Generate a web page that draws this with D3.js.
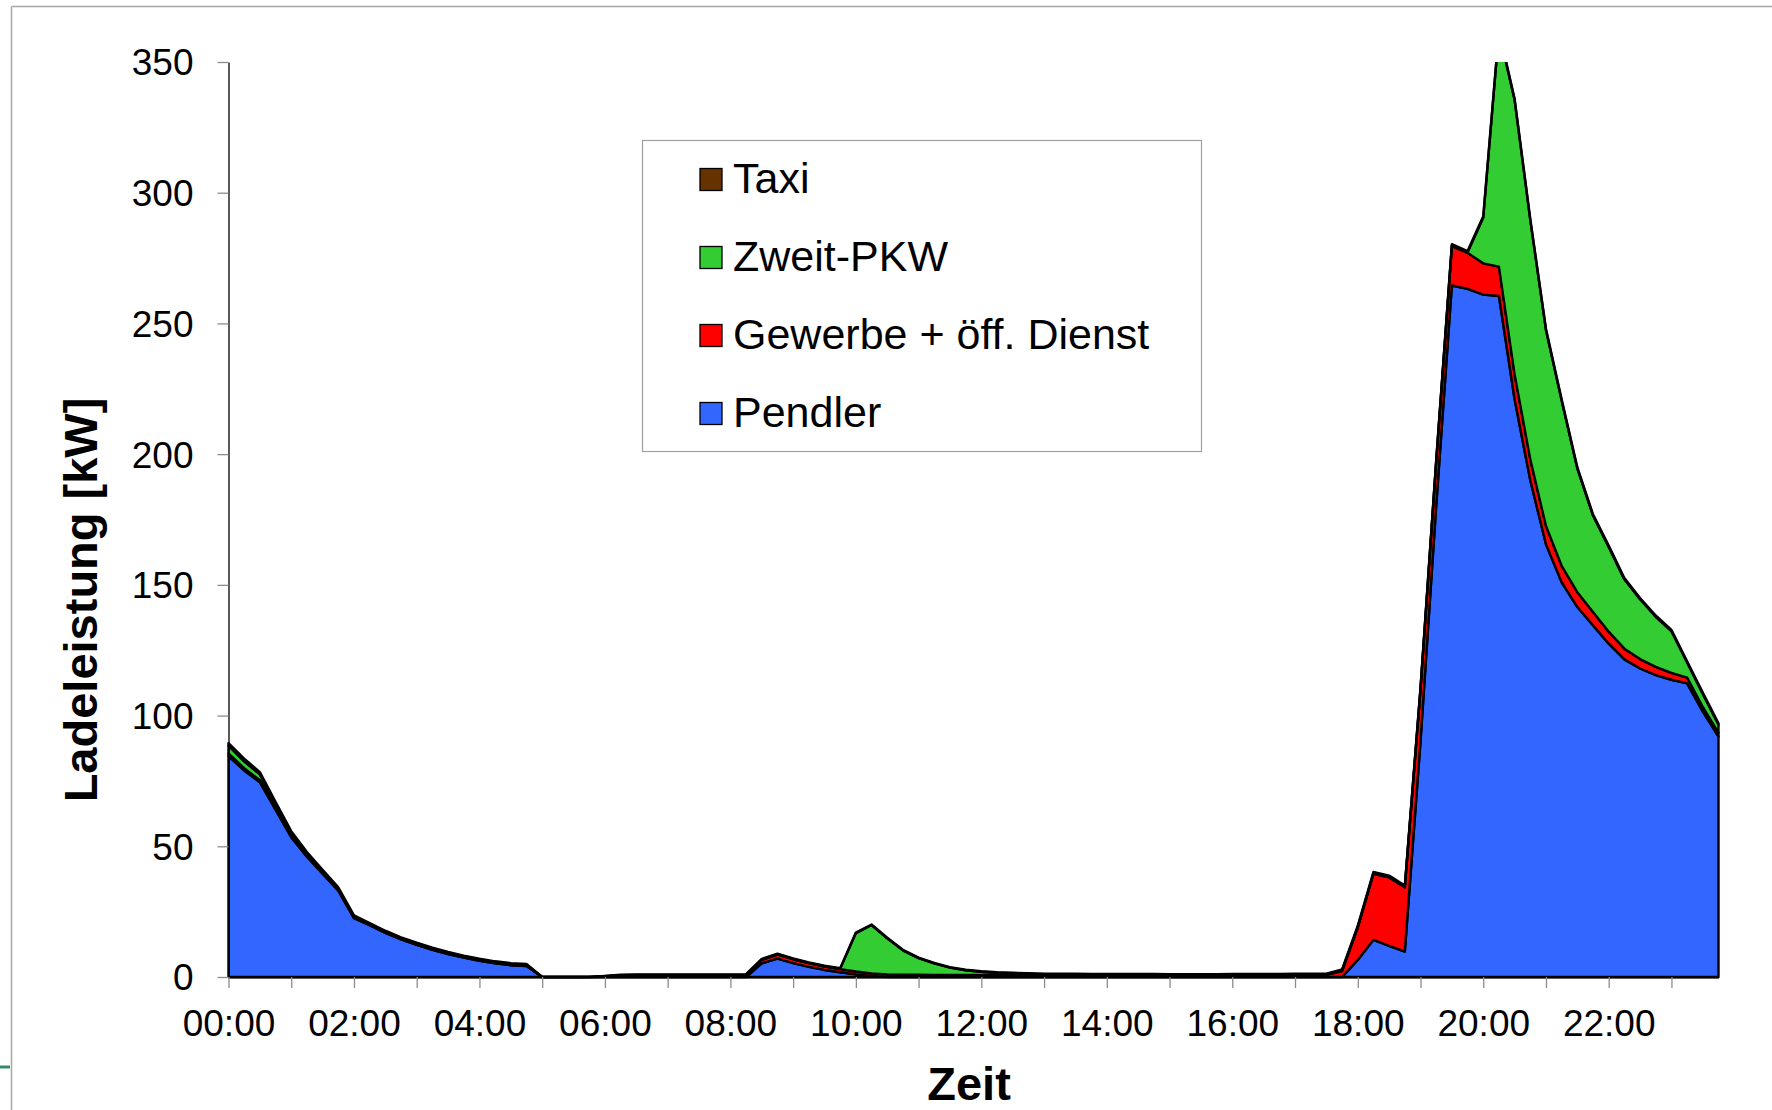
<!DOCTYPE html>
<html>
<head>
<meta charset="utf-8">
<script src="https://cdn.jsdelivr.net/npm/d3@7"></script>
<style>
  html, body { margin: 0; padding: 0; background: #fff; }
  svg { display: block; font-family: "Liberation Sans", Arial, Helvetica, sans-serif; }
</style>
</head>
<body>
<svg id="chart" width="1772" height="1110"></svg>
<script>
// 15-minute time slots of one day
const times = [];
for (let h = 0; h < 24; h++) {
  for (let m = 0; m < 60; m += 15) {
    times.push(String(h).padStart(2, "0") + ":" + String(m).padStart(2, "0"));
  }
}

// Charging power per user group [kW], one value per 15-minute slot
const pendler = [
  84.5, 79, 74.5, 64, 53.5, 46, 39.5, 33,
  22.5, 19.8, 16.9, 14.4, 12.3, 10.4, 8.8, 7.4,
  6.2, 5.2, 4.5, 4.2, 0, 0, 0, 0,
  0, 0, 0, 0, 0, 0, 0, 0,
  0, 0, 5.2, 7.0, 5.3, 3.9, 2.7, 1.8,
  1.0, 0.4, 0, 0, 0, 0, 0, 0,
  0, 0, 0, 0, 0, 0, 0, 0,
  0, 0, 0, 0, 0, 0, 0, 0,
  0, 0, 0, 0, 0, 0, 0, 0,
  6.5, 14.2, 11.9, 9.7, 90, 180, 264.5, 263.2,
  261, 260.5, 221, 190, 165.5, 151, 141.5, 134.5,
  127.5, 121.5, 118, 115.5, 113.7, 112.3, 101.5, 92
];

const gewerbe = [
  1.0, 0.9, 0.8, 0.7, 0.6, 0.5, 0.5, 0.4,
  0.4, 0.3, 0.3, 0.3, 0.3, 0.3, 0.3, 0.3,
  0.3, 0.3, 0.3, 0.3, 0, 0, 0, 0,
  0.3, 0.6, 0.7, 0.7, 0.7, 0.7, 0.7, 0.7,
  0.7, 0.8, 1.4, 1.6, 1.5, 1.4, 1.3, 1.2,
  1.1, 1.0, 1.0, 0.9, 0.9, 0.8, 0.8, 0.8,
  0.8, 0.8, 0.8, 0.8, 0.7, 0.7, 0.7, 0.7,
  0.7, 0.7, 0.7, 0.7, 0.6, 0.6, 0.6, 0.6,
  0.7, 0.7, 0.7, 0.7, 0.8, 0.8, 0.8, 2.3,
  12.5, 25.3, 26.2, 24.6, 20, 17, 15.1, 13.8,
  12, 11.2, 9.5, 8, 7, 6.3, 5.7, 5.1,
  4.6, 4.1, 3.6, 3.1, 2.6, 2.2, 1.8, 1.4
];

const zweitPkw = [
  3.0, 2.6, 2.2, 1.5, 1.0, 0.7, 0.5, 0.4,
  0.3, 0.2, 0.2, 0.2, 0.2, 0.2, 0.2, 0.2,
  0.2, 0.2, 0.2, 0.2, 0, 0, 0, 0,
  0, 0.1, 0.1, 0.1, 0.1, 0.1, 0.1, 0.1,
  0.1, 0.1, 0.1, 0.1, 0.1, 0.1, 0.1, 0.2,
  14.7, 18.5, 13.8, 9.3, 6.3, 4.4, 2.8, 1.8,
  1.2, 0.8, 0.6, 0.5, 0.4, 0.4, 0.4, 0.3,
  0.3, 0.3, 0.3, 0.3, 0.3, 0.3, 0.3, 0.3,
  0.3, 0.3, 0.3, 0.3, 0.3, 0.3, 0.3, 0.3,
  0.2, 0.2, 0.2, 0.2, 0.2, 0.2, 0.2, 0.2,
  17.5, 90, 105, 91.5, 75, 63.2, 47.3, 36.9,
  32.4, 26.5, 22.9, 19.2, 16.0, 5.8, 5.0, 3.1
];

const taxi = [
  1.0, 1.0, 0.9, 0.8, 0.7, 0.6, 0.5, 0.5,
  0.4, 0.3, 0.3, 0.3, 0.3, 0.3, 0.3, 0.3,
  0.3, 0.3, 0.3, 0.3, 0, 0, 0, 0,
  0.1, 0.2, 0.2, 0.2, 0.2, 0.2, 0.2, 0.2,
  0.2, 0.2, 0.2, 0.2, 0.2, 0.2, 0.2, 0.2,
  0.2, 0.2, 0.2, 0.2, 0.2, 0.2, 0.2, 0.2,
  0.2, 0.2, 0.2, 0.2, 0.2, 0.2, 0.2, 0.2,
  0.2, 0.2, 0.2, 0.2, 0.2, 0.2, 0.2, 0.2,
  0.2, 0.2, 0.2, 0.2, 0.2, 0.2, 0.2, 0.3,
  0.4, 0.5, 0.5, 0.5, 0.5, 0.5, 0.5, 0.5,
  0.5, 0.5, 0.5, 0.5, 0.5, 0.5, 0.5, 0.5,
  0.5, 0.5, 0.5, 0.5, 0.5, 0.5, 0.5, 0.5
];

// Stack order bottom to top, and legend order top to bottom
const seriesKeys = ["Pendler", "Gewerbe + öff. Dienst", "Zweit-PKW", "Taxi"];
const seriesValues = [pendler, gewerbe, zweitPkw, taxi];
const seriesColors = ["#3366ff", "#ff0000", "#33cc33", "#663300"];
const legendOrder = ["Taxi", "Zweit-PKW", "Gewerbe + öff. Dienst", "Pendler"];

const yTicks = [0, 50, 100, 150, 200, 250, 300, 350];
const xTickLabels = ["00:00", "02:00", "04:00", "06:00", "08:00", "10:00",
                     "12:00", "14:00", "16:00", "18:00", "20:00", "22:00"];

const svg = d3.select("#chart");

// Frame of the surrounding slide
svg.append("line").attr("x1", 11.5).attr("x2", 1772).attr("y1", 6.5).attr("y2", 6.5)
  .attr("stroke", "#a6a6a6").attr("stroke-width", 1.5);
svg.append("line").attr("x1", 11.5).attr("x2", 11.5).attr("y1", 6.5).attr("y2", 1110)
  .attr("stroke", "#a6a6a6").attr("stroke-width", 1.5);
svg.append("line").attr("x1", 0).attr("x2", 10).attr("y1", 1067).attr("y2", 1067)
  .attr("stroke", "#2f8f66").attr("stroke-width", 3);

const plot = { left: 228.5, right: 1718.5, top: 62, bottom: 977 };

const x = d3.scalePoint().domain(times).range([plot.left, plot.right]);
const y = d3.scaleLinear().domain([0, 350]).range([plot.bottom, plot.top]);

const table = times.map((t, i) => {
  const row = { time: t };
  seriesKeys.forEach((k, s) => { row[k] = seriesValues[s][i]; });
  return row;
});

const stacked = d3.stack().keys(seriesKeys)(table);

svg.append("defs").append("clipPath").attr("id", "plotClip")
  .append("rect")
  .attr("x", plot.left - 3).attr("y", plot.top)
  .attr("width", plot.right - plot.left + 6).attr("height", plot.bottom - plot.top + 4);

const area = d3.area()
  .x(d => x(d.data.time))
  .y0(d => y(d[0]))
  .y1(d => y(d[1]));

svg.append("g").attr("clip-path", "url(#plotClip)")
  .selectAll("path")
  .data(stacked)
  .join("path")
  .attr("d", area)
  .attr("fill", (d, i) => seriesColors[i])
  .attr("stroke", "#000")
  .attr("stroke-width", 2.4)
  .attr("stroke-linejoin", "round");

// Y axis
const yAxis = svg.append("g")
  .attr("transform", `translate(${plot.left},0)`)
  .call(d3.axisLeft(y).tickValues(yTicks).tickSize(11).tickSizeOuter(0).tickPadding(24));
yAxis.select(".domain").attr("stroke", "#000").attr("stroke-width", 1.3);
yAxis.selectAll(".tick line").attr("stroke", "#8c8c8c").attr("stroke-width", 1.3);
yAxis.selectAll(".tick text")
  .attr("font-size", 37).attr("fill", "#000")
  .attr("font-family", "'Liberation Sans', Arial, sans-serif")
  .attr("dy", "0.35em");

// X axis: tick every hour, label every two hours
const hourTicks = times.filter((t, i) => i % 4 === 0);
const xAxis = svg.append("g")
  .attr("transform", `translate(0,${plot.bottom})`)
  .call(d3.axisBottom(x).tickValues(hourTicks).tickSize(11).tickSizeOuter(0)
    .tickFormat(t => xTickLabels.includes(t) ? t : ""));
xAxis.select(".domain").attr("stroke", "#000").attr("stroke-width", 2);
xAxis.selectAll(".tick line").attr("stroke", "#8c8c8c").attr("stroke-width", 1.3);
xAxis.selectAll(".tick text")
  .attr("font-size", 37).attr("fill", "#000")
  .attr("font-family", "'Liberation Sans', Arial, sans-serif")
  .attr("y", 59).attr("dy", 0);

// Axis titles
svg.append("text")
  .attr("transform", "translate(97,600) rotate(-90)")
  .attr("text-anchor", "middle")
  .attr("font-size", 47).attr("font-weight", "bold")
  .text("Ladeleistung [kW]");

svg.append("text")
  .attr("x", 969).attr("y", 1100)
  .attr("text-anchor", "middle")
  .attr("font-size", 47).attr("font-weight", "bold")
  .text("Zeit");

// Legend
const legend = svg.append("g");
legend.append("rect")
  .attr("x", 642.5).attr("y", 140.5).attr("width", 559).attr("height", 311)
  .attr("fill", "#fff").attr("stroke", "#a0a0a0").attr("stroke-width", 1.2);

const legendRows = legend.selectAll("g.item")
  .data(legendOrder)
  .join("g")
  .attr("class", "item")
  .attr("transform", (d, i) => `translate(0,${192.5 + i * 78})`);

legendRows.append("rect")
  .attr("x", 700).attr("y", -24).attr("width", 22).attr("height", 22)
  .attr("fill", d => seriesColors[seriesKeys.indexOf(d)])
  .attr("stroke", "#000").attr("stroke-width", 1.3);

legendRows.append("text")
  .attr("x", 733).attr("y", 0)
  .attr("font-size", 43)
  .text(d => d);
</script>
</body>
</html>
